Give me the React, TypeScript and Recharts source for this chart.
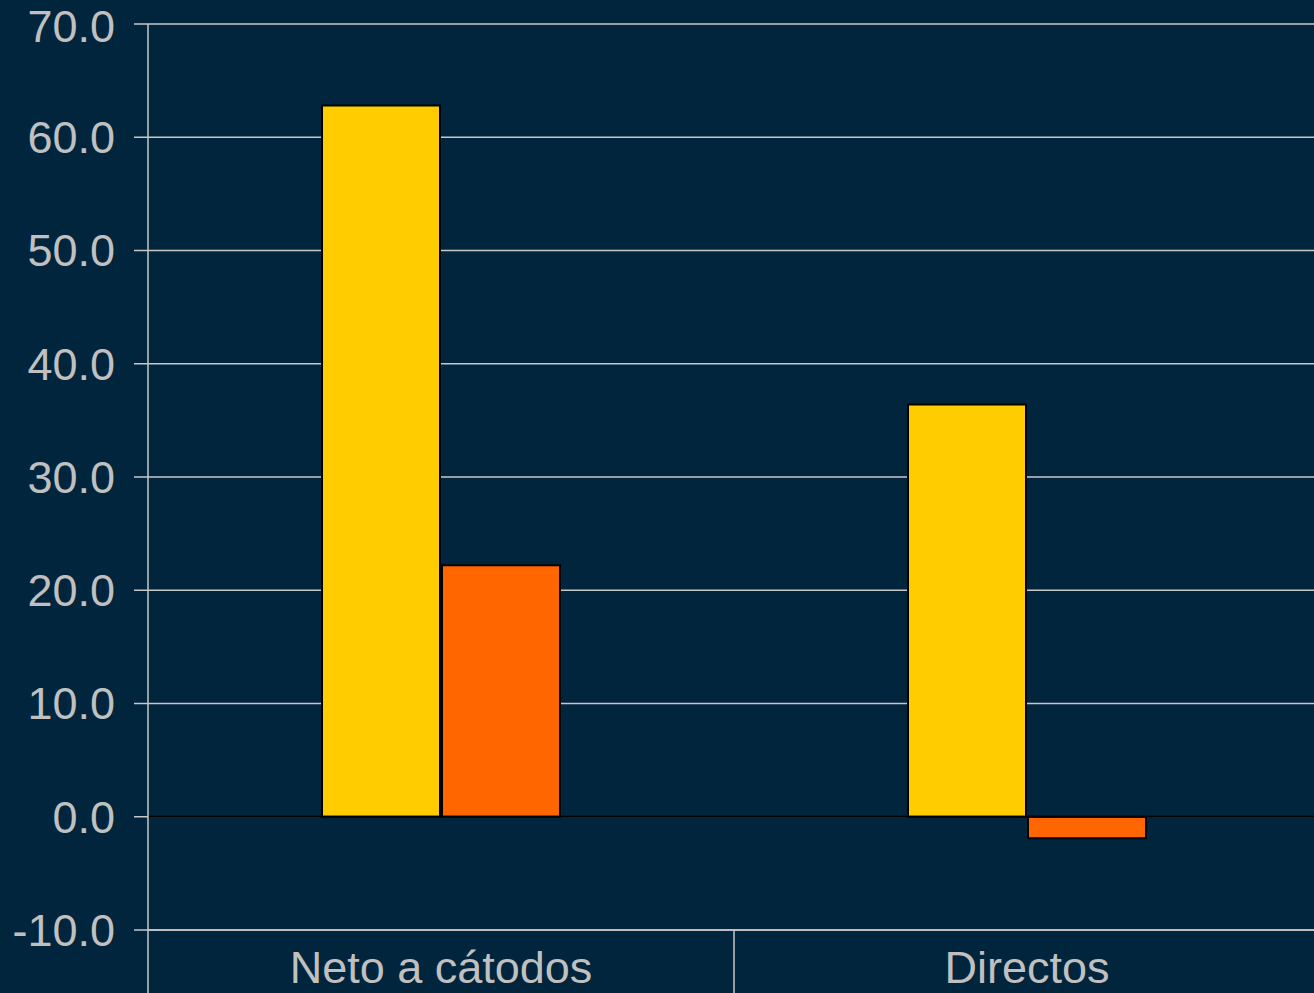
import { Bar, BarChart, CartesianGrid, ReferenceLine, XAxis, YAxis } from "recharts";

const categories = ["Neto a cátodos", "Directos"];
const serieA = [62.8, 36.4];
const serieB = [22.2, -1.9];
const yTicks = [-10, 0, 10, 20, 30, 40, 50, 60, 70];

const data = categories.map((name, i) => ({
  name,
  serieA: serieA[i],
  serieB: serieB[i],
}));

const BG = "#00253d";
const GRID = "#c8c8c8";
const TEXT = "#c0c0c0";
const FONT = "'Liberation Sans', Arial, sans-serif";

const CHART_W = 1320;
const CHART_H = 1000;
const Y_AXIS_W = 148;
const X_AXIS_H = 70;
const BAND = (CHART_W - Y_AXIS_W) / categories.length;
const PLOT_BOTTOM = CHART_H - X_AXIS_H;

function CategoryTick(props: any) {
  const { x, payload, index } = props;
  const y0 = PLOT_BOTTOM;
  return (
    <g>
      <line x1={x - BAND / 2} y1={y0} x2={x - BAND / 2} y2={y0 + X_AXIS_H} stroke={GRID} strokeWidth={1.5} />
      {index === categories.length - 1 && (
        <line x1={x + BAND / 2} y1={y0} x2={x + BAND / 2} y2={y0 + X_AXIS_H} stroke={GRID} strokeWidth={1.5} />
      )}
      <text x={x} y={y0 + 53} textAnchor="middle" fill={TEXT} fontSize={45} fontFamily={FONT}>
        {payload.value}
      </text>
    </g>
  );
}

export default function App() {
  return (
    <div
      style={{
        position: "absolute",
        left: 0,
        top: 0,
        width: 1314,
        height: 993,
        overflow: "hidden",
        background: BG,
      }}
    >
      <BarChart
        width={CHART_W}
        height={CHART_H}
        data={data}
        margin={{ top: 24, right: 0, left: 0, bottom: 0 }}
        barGap={2}
        barSize={118}
      >
        <CartesianGrid horizontal vertical={false} stroke={GRID} strokeWidth={1.5} />
        <XAxis
          dataKey="name"
          height={X_AXIS_H}
          axisLine={{ stroke: GRID, strokeWidth: 1.5 }}
          tickLine={false}
          tick={<CategoryTick />}
          interval={0}
        />
        <YAxis
          width={Y_AXIS_W}
          domain={[-10, 70]}
          ticks={yTicks}
          tickFormatter={(v: number) => v.toFixed(1)}
          axisLine={{ stroke: GRID, strokeWidth: 1.5 }}
          tickLine={{ stroke: GRID, strokeWidth: 1.5 }}
          tickSize={14}
          tickMargin={19}
          tick={{ fill: TEXT, fontSize: 45, fontFamily: FONT }}
          allowDataOverflow
        />
        <Bar dataKey="serieA" fill="#ffcc00" stroke="#000000" strokeWidth={2} isAnimationActive={false} />
        <Bar dataKey="serieB" fill="#ff6600" stroke="#000000" strokeWidth={2} isAnimationActive={false} />
        <ReferenceLine y={0} stroke="#000000" strokeWidth={2} />
      </BarChart>
    </div>
  );
}
